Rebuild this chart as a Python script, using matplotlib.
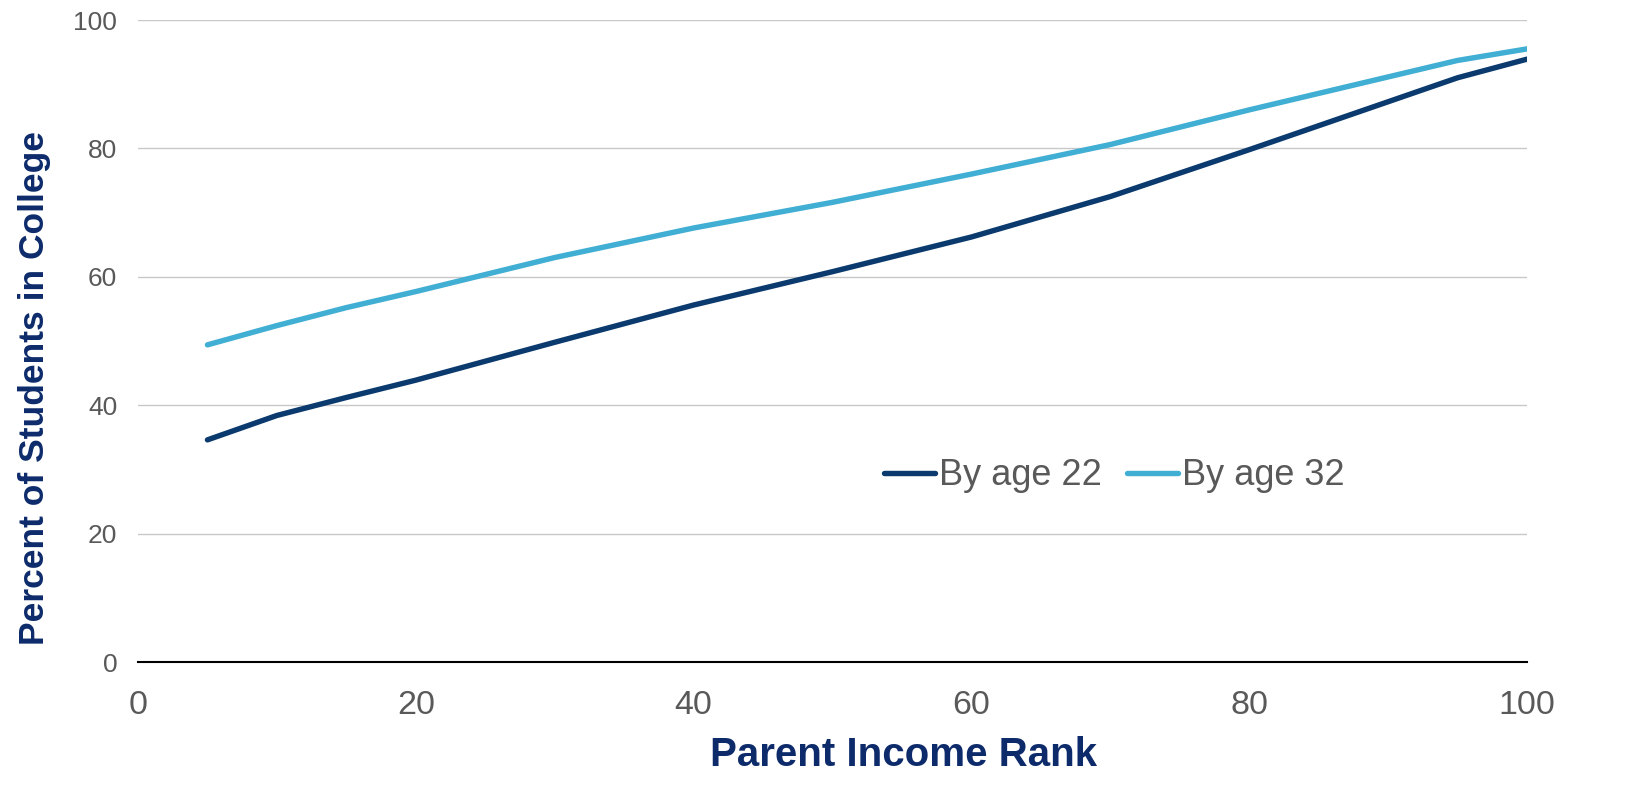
import matplotlib
matplotlib.use("Agg")
import matplotlib.pyplot as plt

plt.rcParams['font.family'] = ['Liberation Sans', 'DejaVu Sans']

rank = [5, 10, 15, 20, 30, 40, 50, 60, 70, 80, 95, 100]
age22 = [34.6, 38.4, 41.2, 43.9, 49.8, 55.6, 60.8, 66.2, 72.5, 79.8, 91.0, 93.9]
age32 = [49.4, 52.4, 55.2, 57.7, 63.0, 67.6, 71.6, 76.0, 80.6, 86.0, 93.7, 95.5]

xticks = [0, 20, 40, 60, 80, 100]
yticks = [0, 20, 40, 60, 80, 100]

fig = plt.figure(figsize=(16.31, 8.02), dpi=100)
ax = fig.add_axes([138/1631, 1-662/802, (1527-138)/1631, (662-20)/802])

ax.plot(rank, age22, color='#0B3A6E', lw=3.9, solid_capstyle='round', label='By age 22')
ax.plot(rank, age32, color='#41AED3', lw=3.9, solid_capstyle='round', label='By age 32')

ax.set_xlim(0, 100)
ax.set_ylim(0, 100)
ax.set_xticks(xticks)
ax.set_yticks(yticks)
ax.yaxis.grid(True, color='#C8C8C8', lw=1)
ax.set_axisbelow(True)
for s in ['top', 'right', 'left']:
    ax.spines[s].set_visible(False)
ax.spines['bottom'].set_color('black')
ax.spines['bottom'].set_linewidth(1.5)
ax.tick_params(axis='y', length=0, labelsize=19, labelcolor='#595959', pad=15)
ax.tick_params(axis='x', length=0, labelsize=24.5, labelcolor='#595959', pad=20)

ax.set_xlabel('Parent Income Rank', fontsize=29, fontweight='bold', color='#0D2B6B',
              labelpad=11, x=0.551)
ax.set_ylabel('Percent of Students in College', fontsize=25.5, fontweight='bold', color='#0D2B6B',
              labelpad=16, y=0.427)

leg = ax.legend(loc='center left', bbox_to_anchor=(0.514, 0.29), ncol=2, frameon=False,
                fontsize=26, handlelength=1.4, handletextpad=0.12, columnspacing=0.7,
                labelcolor='#595959')

fig.savefig('out.png', dpi=100)
